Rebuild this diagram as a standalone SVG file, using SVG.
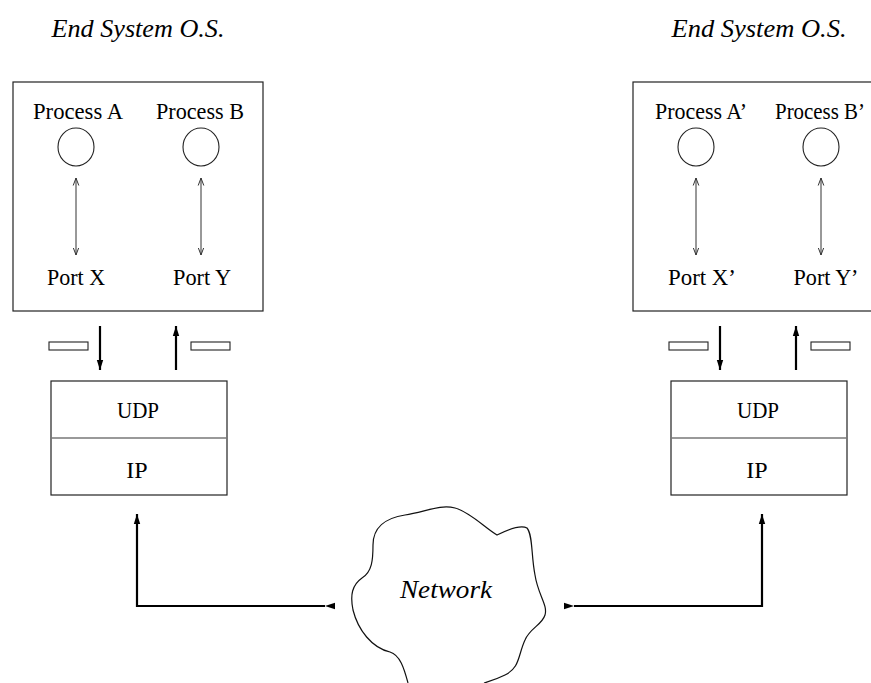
<svg xmlns="http://www.w3.org/2000/svg" width="871" height="683" viewBox="0 0 871 683">
<style>
  .t { font-family: "Liberation Serif", "Times New Roman", serif; font-size: 24px; fill: #000; text-anchor: middle; }
  .ti { font-family: "Liberation Serif", "Times New Roman", serif; font-size: 26px; font-style: italic; fill: #000; text-anchor: middle; }
  .box { fill: #fff; stroke: #222; stroke-width: 1.2; }
  .div { stroke: #777; stroke-width: 1.5; }
  .circ { fill: none; stroke: #222; stroke-width: 1.1; }
  .thin { fill: none; stroke: #333; stroke-width: 1; }
  .thick { fill: none; stroke: #000; stroke-width: 2.2; }
  .pkt { fill: #fff; stroke: #222; stroke-width: 1.1; }
</style>
<defs>
  <marker id="open" viewBox="0 0 8 8" refX="7.5" refY="4" markerWidth="8" markerHeight="8" markerUnits="userSpaceOnUse" orient="auto-start-reverse">
    <path d="M0,1.2 L7.5,4 L0,6.8" fill="none" stroke="#333" stroke-width="1"/>
  </marker>
  <marker id="solid" viewBox="0 0 10 8" refX="10" refY="4" markerWidth="10" markerHeight="8" markerUnits="userSpaceOnUse" orient="auto">
    <path d="M0,0.8 L10,4 L0,7.2 Z" fill="#000"/>
  </marker>
</defs>

<g id="title-left"><text class="ti" x="138" y="37" textLength="173" lengthAdjust="spacingAndGlyphs">End System O.S.</text></g>
<g id="title-right"><text class="ti" x="759" y="37" textLength="175" lengthAdjust="spacingAndGlyphs">End System O.S.</text></g>

<g id="os-left">
  <rect class="box" x="13" y="82" width="250" height="229"/>
  <text class="t" x="78" y="119" textLength="90" lengthAdjust="spacingAndGlyphs">Process A</text>
  <text class="t" x="200" y="119" textLength="88" lengthAdjust="spacingAndGlyphs">Process B</text>
  <ellipse class="circ" cx="76" cy="147" rx="18" ry="19"/>
  <ellipse class="circ" cx="201" cy="147" rx="18" ry="19"/>
  <text class="t" x="76" y="285" textLength="58" lengthAdjust="spacingAndGlyphs">Port X</text>
  <text class="t" x="202" y="285" textLength="58" lengthAdjust="spacingAndGlyphs">Port Y</text>
</g>

<g id="os-right">
  <rect class="box" x="633" y="82" width="260" height="229"/>
  <text class="t" x="701" y="119" textLength="92" lengthAdjust="spacingAndGlyphs">Process A’</text>
  <text class="t" x="820" y="119" textLength="90" lengthAdjust="spacingAndGlyphs">Process B’</text>
  <ellipse class="circ" cx="696" cy="147" rx="18" ry="19"/>
  <ellipse class="circ" cx="821" cy="147" rx="18" ry="19"/>
  <text class="t" x="702" y="285" textLength="68" lengthAdjust="spacingAndGlyphs">Port X’</text>
  <text class="t" x="826" y="285" textLength="65" lengthAdjust="spacingAndGlyphs">Port Y’</text>
</g>

<g id="stack-left">
  <rect class="box" x="51" y="381" width="176" height="114"/>
  <line class="div" x1="51" y1="438" x2="227" y2="438"/>
  <text class="t" x="138" y="418" textLength="42" lengthAdjust="spacingAndGlyphs">UDP</text>
  <text class="t" x="137" y="478">IP</text>
</g>

<g id="stack-right">
  <rect class="box" x="671" y="381" width="176" height="114"/>
  <line class="div" x1="671" y1="438" x2="847" y2="438"/>
  <text class="t" x="758" y="418" textLength="42" lengthAdjust="spacingAndGlyphs">UDP</text>
  <text class="t" x="757" y="478">IP</text>
</g>

<g id="packets">
  <rect class="pkt" x="49" y="342" width="39" height="8"/>
  <rect class="pkt" x="191" y="342" width="39" height="8"/>
  <rect class="pkt" x="669" y="342" width="39" height="8"/>
  <rect class="pkt" x="811" y="342" width="39" height="8"/>
</g>

<g id="network">
  <path fill="#fff" stroke="#111" stroke-width="1.2" d="M 408 683 C 404 668, 400 655, 390 652 C 372 648, 358 630, 353 610 C 350 595, 352 585, 362 578 C 372 572, 373 560, 373 545 C 373 528, 385 518, 405 515 C 425 512, 440 504, 455 508 C 470 512, 485 528, 497 535 C 507 530, 520 524, 527 528 C 533 535, 531 555, 535 575 C 538 595, 548 605, 545 615 C 542 625, 530 628, 525 640 C 518 655, 520 668, 505 675 C 495 680, 487 682, 484 683"/>
  <text class="ti" x="446" y="598" textLength="92" lengthAdjust="spacingAndGlyphs">Network</text>
</g>

<g id="connectors">
  <line class="thin" x1="76" y1="178" x2="76" y2="255" marker-start="url(#open)" marker-end="url(#open)"/>
  <line class="thin" x1="201" y1="178" x2="201" y2="255" marker-start="url(#open)" marker-end="url(#open)"/>
  <line class="thin" x1="696" y1="178" x2="696" y2="255" marker-start="url(#open)" marker-end="url(#open)"/>
  <line class="thin" x1="821" y1="178" x2="821" y2="255" marker-start="url(#open)" marker-end="url(#open)"/>

  <line class="thick" x1="100" y1="326" x2="100" y2="370" marker-end="url(#solid)"/>
  <line class="thick" x1="176" y1="370" x2="176" y2="326" marker-end="url(#solid)"/>
  <line class="thick" x1="720" y1="326" x2="720" y2="370" marker-end="url(#solid)"/>
  <line class="thick" x1="796" y1="370" x2="796" y2="326" marker-end="url(#solid)"/>

  <polyline class="thick" points="325,606 137,606 137,514" marker-start="url(#solid)" marker-end="url(#solid)"/>
  <polyline class="thick" points="574,606 762,606 762,514" marker-start="url(#solid)" marker-end="url(#solid)"/>
</g>
</svg>
